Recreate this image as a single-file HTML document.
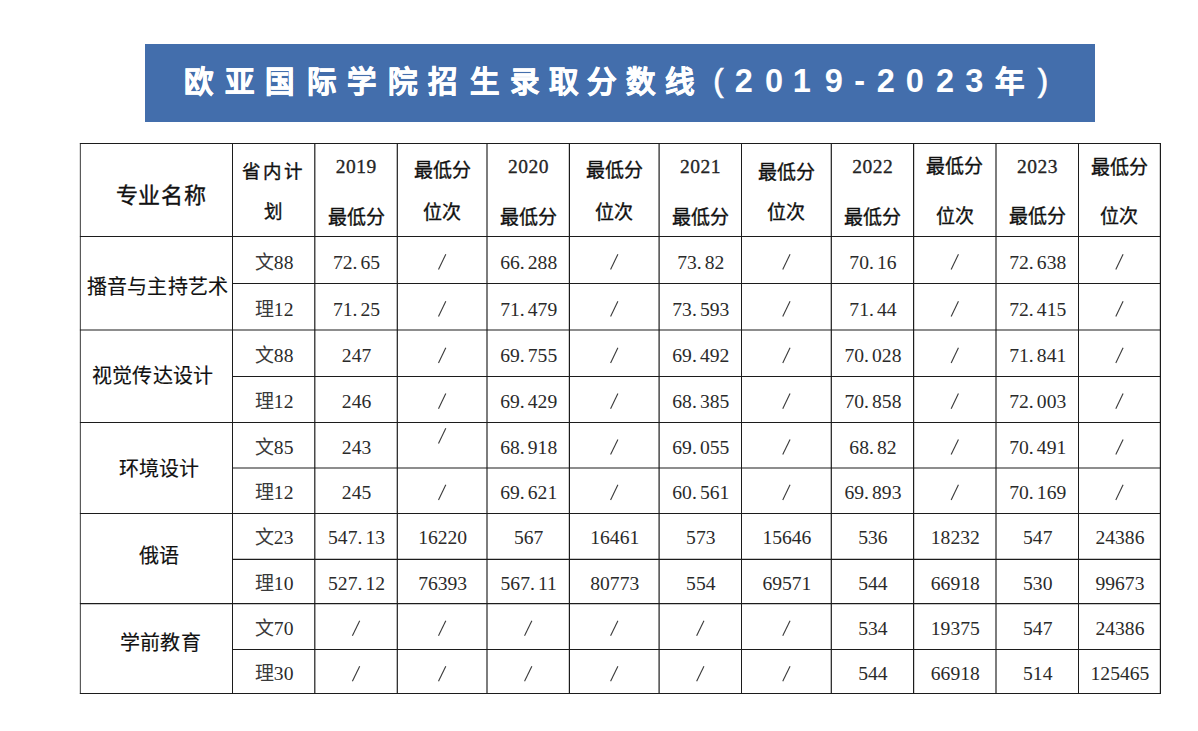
<!DOCTYPE html>
<html lang="zh-CN"><head><meta charset="utf-8"><title>欧亚国际学院招生录取分数线</title>
<style>
html,body{margin:0;padding:0;background:#ffffff;}
body{width:1198px;height:731px;position:relative;overflow:hidden;}
.ban{position:absolute;left:145px;top:44px;width:950px;height:78px;background:#436eac;}
.tc{position:absolute;width:60px;text-align:center;color:#fff;-webkit-text-stroke:0.6px #fff;font-family:"Liberation Sans",sans-serif;font-weight:bold;font-size:29.5px;line-height:40px;white-space:nowrap;}
.tc.d{font-size:32.5px;-webkit-text-stroke:0;}
.tc.pr{font-weight:normal;font-size:31px;-webkit-text-stroke:0.7px #fff;}
.t{position:absolute;text-align:center;white-space:nowrap;color:#111;line-height:20px;}
.s{font-family:"Liberation Sans",sans-serif;-webkit-text-stroke:0.35px #111;}
.h{-webkit-text-stroke:0.3px #111;color:#111;}
.g{font-family:"Liberation Sans",sans-serif;color:#111;-webkit-text-stroke:0.15px #111;}
.n{font-family:"Liberation Serif",serif;font-size:19.6px;color:#2a2a2a;}
.p{display:inline-block;width:8px;text-align:left;}
.z{font-family:"Liberation Sans",sans-serif;font-size:19px;color:#3a3a3a;}
svg{position:absolute;left:0;top:0;}
</style></head><body>
<div class="ban"></div>

<div class="tc" style="left:169.3px;top:62.3px">欧</div>
<div class="tc" style="left:210.2px;top:62.3px">亚</div>
<div class="tc" style="left:249.9px;top:62.3px">国</div>
<div class="tc" style="left:291.5px;top:62.3px">际</div>
<div class="tc" style="left:331.8px;top:62.3px">学</div>
<div class="tc" style="left:373.2px;top:62.3px">院</div>
<div class="tc" style="left:413.4px;top:62.3px">招</div>
<div class="tc" style="left:455.0px;top:62.3px">生</div>
<div class="tc" style="left:494.8px;top:62.3px">录</div>
<div class="tc" style="left:533.5px;top:62.3px">取</div>
<div class="tc" style="left:572.1px;top:62.3px">分</div>
<div class="tc" style="left:610.8px;top:62.3px">数</div>
<div class="tc" style="left:649.8px;top:62.3px">线</div>
<div class="tc d pr" style="left:688.5px;top:60.7px">(</div>
<div class="tc d" style="left:713.8px;top:60.7px">2</div>
<div class="tc d" style="left:744.0px;top:60.7px">0</div>
<div class="tc d" style="left:771.8px;top:60.7px">1</div>
<div class="tc d" style="left:803.7px;top:60.7px">9</div>
<div class="tc d" style="left:829.6px;top:60.7px">-</div>
<div class="tc d" style="left:855.7px;top:60.7px">2</div>
<div class="tc d" style="left:884.8px;top:60.7px">0</div>
<div class="tc d" style="left:915.0px;top:60.7px">2</div>
<div class="tc d" style="left:944.4px;top:60.7px">3</div>
<div class="tc" style="left:980.0px;top:62.3px">年</div>
<div class="tc d pr" style="left:1012.9px;top:60.7px">)</div>
<svg width="1198" height="731" viewBox="0 0 1198 731">
<line x1="80.4" y1="143.0" x2="80.4" y2="694.0" stroke="#5a5a5a" stroke-width="1.2"/>
<line x1="232.5" y1="143.0" x2="232.5" y2="694.0" stroke="#1c1c1c" stroke-width="1.0"/>
<line x1="314.8" y1="143.0" x2="314.8" y2="694.0" stroke="#1c1c1c" stroke-width="1.2"/>
<line x1="397.3" y1="143.0" x2="397.3" y2="694.0" stroke="#1c1c1c" stroke-width="1.2"/>
<line x1="487.0" y1="143.0" x2="487.0" y2="694.0" stroke="#1c1c1c" stroke-width="1.15"/>
<line x1="569.4" y1="143.0" x2="569.4" y2="694.0" stroke="#1c1c1c" stroke-width="1.2"/>
<line x1="659.1" y1="143.0" x2="659.1" y2="694.0" stroke="#1c1c1c" stroke-width="1.2"/>
<line x1="741.5" y1="143.0" x2="741.5" y2="694.0" stroke="#1c1c1c" stroke-width="1.0"/>
<line x1="831.3" y1="143.0" x2="831.3" y2="694.0" stroke="#1c1c1c" stroke-width="1.2"/>
<line x1="913.6" y1="143.0" x2="913.6" y2="694.0" stroke="#1c1c1c" stroke-width="1.2"/>
<line x1="996.0" y1="143.0" x2="996.0" y2="694.0" stroke="#1c1c1c" stroke-width="1.15"/>
<line x1="1078.5" y1="143.0" x2="1078.5" y2="694.0" stroke="#1c1c1c" stroke-width="1.0"/>
<line x1="1160.4" y1="143.0" x2="1160.4" y2="694.0" stroke="#1c1c1c" stroke-width="1.2"/>
<line x1="79.9" y1="143.5" x2="1160.9" y2="143.5" stroke="#1c1c1c" stroke-width="1.0"/>
<line x1="79.9" y1="236.5" x2="1160.9" y2="236.5" stroke="#1c1c1c" stroke-width="1.0"/>
<line x1="232.5" y1="283.5" x2="1160.9" y2="283.5" stroke="#1c1c1c" stroke-width="1.0"/>
<line x1="79.9" y1="330.0" x2="1160.9" y2="330.0" stroke="#1c1c1c" stroke-width="1.15"/>
<line x1="232.5" y1="376.5" x2="1160.9" y2="376.5" stroke="#1c1c1c" stroke-width="1.0"/>
<line x1="79.9" y1="422.5" x2="1160.9" y2="422.5" stroke="#1c1c1c" stroke-width="1.0"/>
<line x1="232.5" y1="468.0" x2="1160.9" y2="468.0" stroke="#1c1c1c" stroke-width="1.15"/>
<line x1="79.9" y1="513.5" x2="1160.9" y2="513.5" stroke="#1c1c1c" stroke-width="1.0"/>
<line x1="232.5" y1="559.4" x2="1160.9" y2="559.4" stroke="#1c1c1c" stroke-width="1.2"/>
<line x1="79.9" y1="603.7" x2="1160.9" y2="603.7" stroke="#1c1c1c" stroke-width="1.2"/>
<line x1="232.5" y1="649.5" x2="1160.9" y2="649.5" stroke="#1c1c1c" stroke-width="1.0"/>
<line x1="79.9" y1="693.5" x2="1160.9" y2="693.5" stroke="#1c1c1c" stroke-width="1.0"/>
<line x1="438.50" y1="269.45" x2="445.80" y2="254.35" stroke="#3a3a3a" stroke-width="1.1"/>
<line x1="610.60" y1="269.45" x2="617.90" y2="254.35" stroke="#3a3a3a" stroke-width="1.1"/>
<line x1="782.75" y1="269.45" x2="790.05" y2="254.35" stroke="#3a3a3a" stroke-width="1.1"/>
<line x1="951.15" y1="269.45" x2="958.45" y2="254.35" stroke="#3a3a3a" stroke-width="1.1"/>
<line x1="1115.80" y1="269.45" x2="1123.10" y2="254.35" stroke="#3a3a3a" stroke-width="1.1"/>
<line x1="438.50" y1="316.45" x2="445.80" y2="301.35" stroke="#3a3a3a" stroke-width="1.1"/>
<line x1="610.60" y1="316.45" x2="617.90" y2="301.35" stroke="#3a3a3a" stroke-width="1.1"/>
<line x1="782.75" y1="316.45" x2="790.05" y2="301.35" stroke="#3a3a3a" stroke-width="1.1"/>
<line x1="951.15" y1="316.45" x2="958.45" y2="301.35" stroke="#3a3a3a" stroke-width="1.1"/>
<line x1="1115.80" y1="316.45" x2="1123.10" y2="301.35" stroke="#3a3a3a" stroke-width="1.1"/>
<line x1="438.50" y1="362.95" x2="445.80" y2="347.85" stroke="#3a3a3a" stroke-width="1.1"/>
<line x1="610.60" y1="362.95" x2="617.90" y2="347.85" stroke="#3a3a3a" stroke-width="1.1"/>
<line x1="782.75" y1="362.95" x2="790.05" y2="347.85" stroke="#3a3a3a" stroke-width="1.1"/>
<line x1="951.15" y1="362.95" x2="958.45" y2="347.85" stroke="#3a3a3a" stroke-width="1.1"/>
<line x1="1115.80" y1="362.95" x2="1123.10" y2="347.85" stroke="#3a3a3a" stroke-width="1.1"/>
<line x1="438.50" y1="408.65" x2="445.80" y2="393.55" stroke="#3a3a3a" stroke-width="1.1"/>
<line x1="610.60" y1="408.65" x2="617.90" y2="393.55" stroke="#3a3a3a" stroke-width="1.1"/>
<line x1="782.75" y1="408.65" x2="790.05" y2="393.55" stroke="#3a3a3a" stroke-width="1.1"/>
<line x1="951.15" y1="408.65" x2="958.45" y2="393.55" stroke="#3a3a3a" stroke-width="1.1"/>
<line x1="1115.80" y1="408.65" x2="1123.10" y2="393.55" stroke="#3a3a3a" stroke-width="1.1"/>
<line x1="438.50" y1="443.45" x2="445.80" y2="428.35" stroke="#3a3a3a" stroke-width="1.1"/>
<line x1="610.60" y1="454.55" x2="617.90" y2="439.45" stroke="#3a3a3a" stroke-width="1.1"/>
<line x1="782.75" y1="454.55" x2="790.05" y2="439.45" stroke="#3a3a3a" stroke-width="1.1"/>
<line x1="951.15" y1="454.55" x2="958.45" y2="439.45" stroke="#3a3a3a" stroke-width="1.1"/>
<line x1="1115.80" y1="454.55" x2="1123.10" y2="439.45" stroke="#3a3a3a" stroke-width="1.1"/>
<line x1="438.50" y1="499.95" x2="445.80" y2="484.85" stroke="#3a3a3a" stroke-width="1.1"/>
<line x1="610.60" y1="499.95" x2="617.90" y2="484.85" stroke="#3a3a3a" stroke-width="1.1"/>
<line x1="782.75" y1="499.95" x2="790.05" y2="484.85" stroke="#3a3a3a" stroke-width="1.1"/>
<line x1="951.15" y1="499.95" x2="958.45" y2="484.85" stroke="#3a3a3a" stroke-width="1.1"/>
<line x1="1115.80" y1="499.95" x2="1123.10" y2="484.85" stroke="#3a3a3a" stroke-width="1.1"/>
<line x1="352.40" y1="635.75" x2="359.70" y2="620.65" stroke="#3a3a3a" stroke-width="1.1"/>
<line x1="438.50" y1="635.75" x2="445.80" y2="620.65" stroke="#3a3a3a" stroke-width="1.1"/>
<line x1="524.55" y1="635.75" x2="531.85" y2="620.65" stroke="#3a3a3a" stroke-width="1.1"/>
<line x1="610.60" y1="635.75" x2="617.90" y2="620.65" stroke="#3a3a3a" stroke-width="1.1"/>
<line x1="696.65" y1="635.75" x2="703.95" y2="620.65" stroke="#3a3a3a" stroke-width="1.1"/>
<line x1="782.75" y1="635.75" x2="790.05" y2="620.65" stroke="#3a3a3a" stroke-width="1.1"/>
<line x1="352.40" y1="681.35" x2="359.70" y2="666.25" stroke="#3a3a3a" stroke-width="1.1"/>
<line x1="438.50" y1="681.35" x2="445.80" y2="666.25" stroke="#3a3a3a" stroke-width="1.1"/>
<line x1="524.55" y1="681.35" x2="531.85" y2="666.25" stroke="#3a3a3a" stroke-width="1.1"/>
<line x1="610.60" y1="681.35" x2="617.90" y2="666.25" stroke="#3a3a3a" stroke-width="1.1"/>
<line x1="696.65" y1="681.35" x2="703.95" y2="666.25" stroke="#3a3a3a" stroke-width="1.1"/>
<line x1="782.75" y1="681.35" x2="790.05" y2="666.25" stroke="#3a3a3a" stroke-width="1.1"/>
</svg>
<div class="t n" style="left:233.0px;width:82.3px;top:252.5px"><span class="z">文</span>88</div>
<div class="t n" style="left:315.3px;width:82.5px;top:252.5px">72<span class="p">.</span>65</div>
<div class="t n" style="left:487.5px;width:82.4px;top:252.5px">66<span class="p">.</span>288</div>
<div class="t n" style="left:659.6px;width:82.4px;top:252.5px">73<span class="p">.</span>82</div>
<div class="t n" style="left:831.8px;width:82.3px;top:252.5px">70<span class="p">.</span>16</div>
<div class="t n" style="left:996.5px;width:82.5px;top:252.5px">72<span class="p">.</span>638</div>
<div class="t n" style="left:233.0px;width:82.3px;top:299.5px"><span class="z">理</span>12</div>
<div class="t n" style="left:315.3px;width:82.5px;top:299.5px">71<span class="p">.</span>25</div>
<div class="t n" style="left:487.5px;width:82.4px;top:299.5px">71<span class="p">.</span>479</div>
<div class="t n" style="left:659.6px;width:82.4px;top:299.5px">73<span class="p">.</span>593</div>
<div class="t n" style="left:831.8px;width:82.3px;top:299.5px">71<span class="p">.</span>44</div>
<div class="t n" style="left:996.5px;width:82.5px;top:299.5px">72<span class="p">.</span>415</div>
<div class="t n" style="left:233.0px;width:82.3px;top:346.0px"><span class="z">文</span>88</div>
<div class="t n" style="left:315.3px;width:82.5px;top:346.0px">247</div>
<div class="t n" style="left:487.5px;width:82.4px;top:346.0px">69<span class="p">.</span>755</div>
<div class="t n" style="left:659.6px;width:82.4px;top:346.0px">69<span class="p">.</span>492</div>
<div class="t n" style="left:831.8px;width:82.3px;top:346.0px">70<span class="p">.</span>028</div>
<div class="t n" style="left:996.5px;width:82.5px;top:346.0px">71<span class="p">.</span>841</div>
<div class="t n" style="left:233.0px;width:82.3px;top:391.7px"><span class="z">理</span>12</div>
<div class="t n" style="left:315.3px;width:82.5px;top:391.7px">246</div>
<div class="t n" style="left:487.5px;width:82.4px;top:391.7px">69<span class="p">.</span>429</div>
<div class="t n" style="left:659.6px;width:82.4px;top:391.7px">68<span class="p">.</span>385</div>
<div class="t n" style="left:831.8px;width:82.3px;top:391.7px">70<span class="p">.</span>858</div>
<div class="t n" style="left:996.5px;width:82.5px;top:391.7px">72<span class="p">.</span>003</div>
<div class="t n" style="left:233.0px;width:82.3px;top:437.6px"><span class="z">文</span>85</div>
<div class="t n" style="left:315.3px;width:82.5px;top:437.6px">243</div>
<div class="t n" style="left:487.5px;width:82.4px;top:437.6px">68<span class="p">.</span>918</div>
<div class="t n" style="left:659.6px;width:82.4px;top:437.6px">69<span class="p">.</span>055</div>
<div class="t n" style="left:831.8px;width:82.3px;top:437.6px">68<span class="p">.</span>82</div>
<div class="t n" style="left:996.5px;width:82.5px;top:437.6px">70<span class="p">.</span>491</div>
<div class="t n" style="left:233.0px;width:82.3px;top:483.0px"><span class="z">理</span>12</div>
<div class="t n" style="left:315.3px;width:82.5px;top:483.0px">245</div>
<div class="t n" style="left:487.5px;width:82.4px;top:483.0px">69<span class="p">.</span>621</div>
<div class="t n" style="left:659.6px;width:82.4px;top:483.0px">60<span class="p">.</span>561</div>
<div class="t n" style="left:831.8px;width:82.3px;top:483.0px">69<span class="p">.</span>893</div>
<div class="t n" style="left:996.5px;width:82.5px;top:483.0px">70<span class="p">.</span>169</div>
<div class="t n" style="left:233.0px;width:82.3px;top:528.3px"><span class="z">文</span>23</div>
<div class="t n" style="left:315.3px;width:82.5px;top:528.3px">547<span class="p">.</span>13</div>
<div class="t n" style="left:397.8px;width:89.7px;top:528.3px">16220</div>
<div class="t n" style="left:487.5px;width:82.4px;top:528.3px">567</div>
<div class="t n" style="left:569.9px;width:89.7px;top:528.3px">16461</div>
<div class="t n" style="left:659.6px;width:82.4px;top:528.3px">573</div>
<div class="t n" style="left:742.0px;width:89.8px;top:528.3px">15646</div>
<div class="t n" style="left:831.8px;width:82.3px;top:528.3px">536</div>
<div class="t n" style="left:914.1px;width:82.4px;top:528.3px">18232</div>
<div class="t n" style="left:996.5px;width:82.5px;top:528.3px">547</div>
<div class="t n" style="left:1079.0px;width:81.9px;top:528.3px">24386</div>
<div class="t n" style="left:233.0px;width:82.3px;top:574.4px"><span class="z">理</span>10</div>
<div class="t n" style="left:315.3px;width:82.5px;top:574.4px">527<span class="p">.</span>12</div>
<div class="t n" style="left:397.8px;width:89.7px;top:574.4px">76393</div>
<div class="t n" style="left:487.5px;width:82.4px;top:574.4px">567<span class="p">.</span>11</div>
<div class="t n" style="left:569.9px;width:89.7px;top:574.4px">80773</div>
<div class="t n" style="left:659.6px;width:82.4px;top:574.4px">554</div>
<div class="t n" style="left:742.0px;width:89.8px;top:574.4px">69571</div>
<div class="t n" style="left:831.8px;width:82.3px;top:574.4px">544</div>
<div class="t n" style="left:914.1px;width:82.4px;top:574.4px">66918</div>
<div class="t n" style="left:996.5px;width:82.5px;top:574.4px">530</div>
<div class="t n" style="left:1079.0px;width:81.9px;top:574.4px">99673</div>
<div class="t n" style="left:233.0px;width:82.3px;top:618.8px"><span class="z">文</span>70</div>
<div class="t n" style="left:831.8px;width:82.3px;top:618.8px">534</div>
<div class="t n" style="left:914.1px;width:82.4px;top:618.8px">19375</div>
<div class="t n" style="left:996.5px;width:82.5px;top:618.8px">547</div>
<div class="t n" style="left:1079.0px;width:81.9px;top:618.8px">24386</div>
<div class="t n" style="left:233.0px;width:82.3px;top:664.4px"><span class="z">理</span>30</div>
<div class="t n" style="left:831.8px;width:82.3px;top:664.4px">544</div>
<div class="t n" style="left:914.1px;width:82.4px;top:664.4px">66918</div>
<div class="t n" style="left:996.5px;width:82.5px;top:664.4px">514</div>
<div class="t n" style="left:1079.0px;width:81.9px;top:664.4px">125465</div>
<div class="t s" style="left:84.7px;width:152.1px;top:185.7px;font-size:22px;letter-spacing:0.6px;text-indent:0.6px">专业名称</div>
<div class="t s" style="left:231.5px;width:82.3px;top:161.5px;font-size:18.5px;letter-spacing:1.8px;text-indent:1.8px">省内计</div>
<div class="t s" style="left:232.5px;width:82.3px;top:202.4px;font-size:18.5px">划</div>
<div class="t n h" style="left:314.8px;width:82.5px;top:157.2px;font-size:19.5px;letter-spacing:0.5px;text-indent:0.5px">2019</div>
<div class="t s" style="left:314.8px;width:82.5px;top:207.5px;font-size:19px">最低分</div>
<div class="t n h" style="left:487.0px;width:82.4px;top:157.2px;font-size:19.5px;letter-spacing:0.5px;text-indent:0.5px">2020</div>
<div class="t s" style="left:487.0px;width:82.4px;top:207.5px;font-size:19px">最低分</div>
<div class="t n h" style="left:659.1px;width:82.4px;top:157.2px;font-size:19.5px;letter-spacing:0.5px;text-indent:0.5px">2021</div>
<div class="t s" style="left:659.1px;width:82.4px;top:207.5px;font-size:19px">最低分</div>
<div class="t n h" style="left:831.3px;width:82.3px;top:157.2px;font-size:19.5px;letter-spacing:0.5px;text-indent:0.5px">2022</div>
<div class="t s" style="left:831.3px;width:82.3px;top:207.5px;font-size:19px">最低分</div>
<div class="t n h" style="left:996.0px;width:82.5px;top:157.2px;font-size:19.5px;letter-spacing:0.5px;text-indent:0.5px">2023</div>
<div class="t s" style="left:996.0px;width:82.5px;top:207.1px;font-size:19px">最低分</div>
<div class="t s" style="left:397.3px;width:89.7px;top:161.3px;font-size:19px">最低分</div>
<div class="t s" style="left:397.3px;width:89.7px;top:202.5px;font-size:19px">位次</div>
<div class="t s" style="left:569.4px;width:89.7px;top:161.3px;font-size:19px">最低分</div>
<div class="t s" style="left:569.4px;width:89.7px;top:202.5px;font-size:19px">位次</div>
<div class="t s" style="left:741.5px;width:89.8px;top:162.5px;font-size:19px">最低分</div>
<div class="t s" style="left:741.5px;width:89.8px;top:202.5px;font-size:19px">位次</div>
<div class="t s" style="left:913.6px;width:82.4px;top:156.9px;font-size:19px">最低分</div>
<div class="t s" style="left:913.6px;width:82.4px;top:206.8px;font-size:19px">位次</div>
<div class="t s" style="left:1078.5px;width:81.9px;top:158.1px;font-size:19px">最低分</div>
<div class="t s" style="left:1078.5px;width:81.9px;top:206.8px;font-size:19px">位次</div>
<div class="t g" style="left:82.4px;width:150px;top:277.0px;font-size:20px;letter-spacing:0.25px;text-indent:0.25px">播音与主持艺术</div>
<div class="t g" style="left:77.5px;width:150px;top:365.5px;font-size:20px;letter-spacing:0.25px;text-indent:0.25px">视觉传达设计</div>
<div class="t g" style="left:83.9px;width:150px;top:459.2px;font-size:20px;letter-spacing:0.25px;text-indent:0.25px">环境设计</div>
<div class="t g" style="left:84.0px;width:150px;top:546.0px;font-size:20px;letter-spacing:0.25px;text-indent:0.25px">俄语</div>
<div class="t g" style="left:85.3px;width:150px;top:633.0px;font-size:20px;letter-spacing:0.25px;text-indent:0.25px">学前教育</div>
</body></html>
